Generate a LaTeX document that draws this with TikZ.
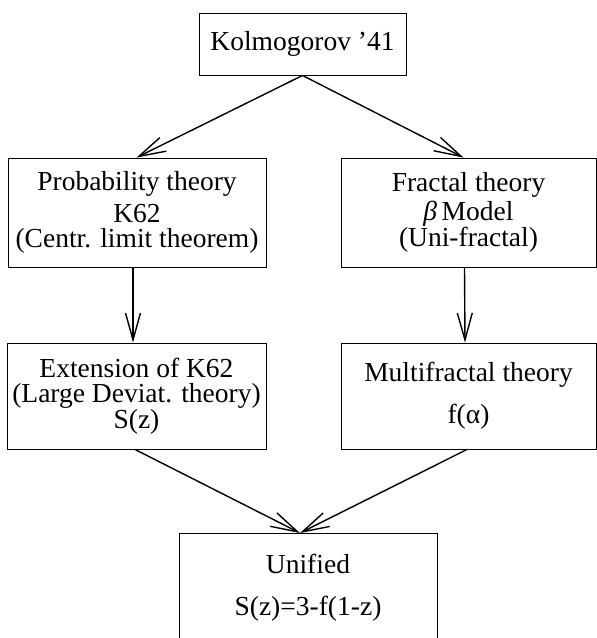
\documentclass[tikz,border=0pt]{standalone}
\usepackage{fontspec}
\setmainfont{Liberation Serif}
\usetikzlibrary{arrows.meta}

\begin{document}
\begin{tikzpicture}[
  x=1pt, y=-1pt,
  theory/.style={rectangle, draw, line width=0.9pt, minimum width=#1, align=center,
    font=\fontsize{27.5}{25}\selectfont, inner sep=0pt},
  theory/.default=258pt,
  arrow/.style={-{Straight Barb[length=27pt, width=15pt]}, line width=1.4pt}
]
  \path[use as bounding box, clip] (0,0) rectangle (597,638);

  \node[theory=207pt, minimum height=62pt] (k41)  at (302.5,44)   {Kolmogorov ’41};
  \node[theory, minimum height=109pt]      (prob) at (137,212.5)  {Probability theory\\[7pt]K62\\(Centr. limit theorem)};
  \node[theory=255pt, minimum height=109pt] (frac) at (468.5,212.5) {Fractal theory\\[3pt]{\itshape β}\,Model\\(Uni-fractal)};
  \node[theory=259pt, minimum height=106pt] (ext)  at (136.5,396)  {Extension of K62\\(Large Deviat. theory)\\S(z)};
  \node[theory=255pt, minimum height=106pt] (mult) at (468.5,396)  {Multifractal theory\\[16pt]f(α)};
  \node[theory, anchor=north, text height=82pt, text depth=33pt] (uni) at (308,533) {Unified\\[17pt]S(z)=3-f(1-z)};

  \draw[arrow] (k41.south) -- ([xshift=-0.5pt]prob.north);
  \draw[arrow] (k41.south) -- ([xshift=-5pt]frac.north);
  \draw[arrow] ([xshift=-4pt]prob.south) -- ([xshift=-3.5pt]ext.north);
  \draw[arrow] ([xshift=-4pt]frac.south) -- ([xshift=-3.5pt]mult.north);
  \draw[arrow] ([xshift=-1.5pt]ext.south) -- ([xshift=-8pt]uni.north);
  \draw[arrow] ([xshift=-1.5pt]mult.south) -- ([xshift=-8pt]uni.north);
\end{tikzpicture}
\end{document}
